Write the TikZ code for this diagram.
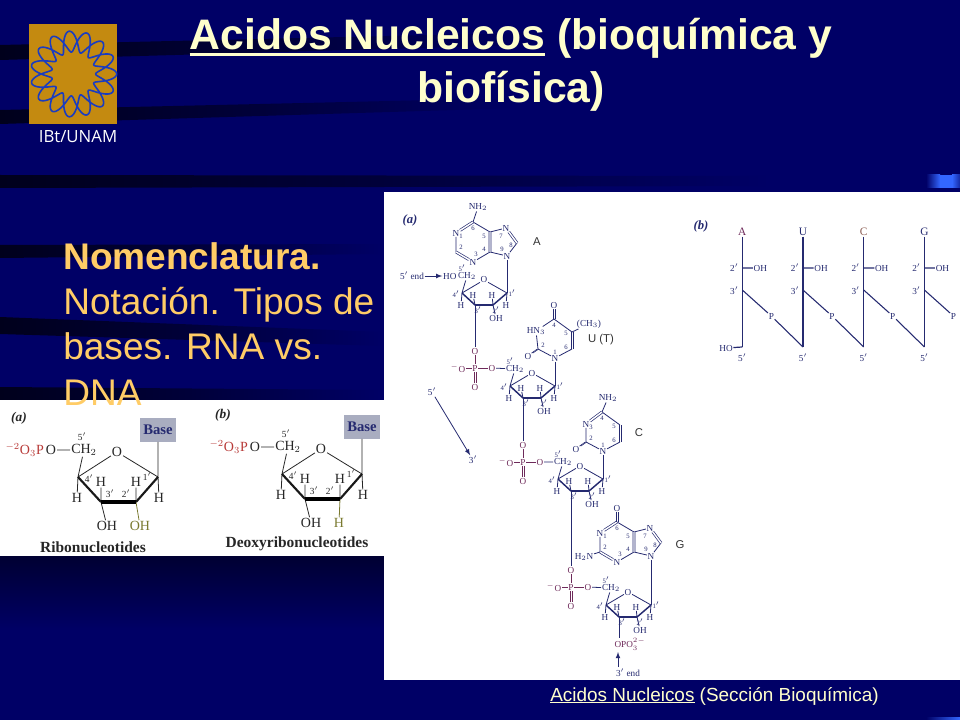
\documentclass[tikz,border=0pt]{standalone}
\usepackage{fontspec}
\usetikzlibrary{calc,positioning,arrows}
\setmainfont{Liberation Serif}
\setsansfont{Liberation Sans}
\newfontfamily\logofont{Open Sans}
\definecolor{bgnavy}{HTML}{000066}
\definecolor{stripedark}{HTML}{00001C}
\definecolor{titlecol}{HTML}{FFFFCC}
\definecolor{bodycol}{HTML}{FFCC66}
\definecolor{goldcol}{HTML}{C48A10}
\definecolor{ringblue}{HTML}{1A3CC0}
\definecolor{inkblue}{HTML}{252A70}
\definecolor{maroon}{HTML}{6E2A5A}
\definecolor{redcol}{HTML}{B83A38}
\definecolor{olivecol}{HTML}{7A7A30}
\definecolor{browncol}{HTML}{8A5A50}
\definecolor{baseboxcol}{HTML}{A9ADC0}
\definecolor{barblue}{HTML}{3366FF}
\newcommand{\ruleline}[3]{\setbox0=\hbox{#3}\leavevmode\rlap{\rule[-#1]{\wd0}{#2}}\box0\relax}
\newcommand{\twobond}[4]{
    \draw[#1, line width=0.45pt, transform canvas={xshift=#2}] (#3) -- (#4);
    \draw[#1, line width=0.45pt, transform canvas={xshift=-#2}] (#3) -- (#4);
}
\tikzset{
    atom/.style={inner sep=0.4pt, text=inkblue, font=\fontsize{6.9}{7}\selectfont},
    num/.style={inner sep=0pt, text=inkblue, font=\fontsize{5}{5}\selectfont},
    paneltext/.style={inner sep=0.6pt, text=black!85, font=\fontsize{10.5}{11}\selectfont},
    panelnum/.style={inner sep=0pt, text=black!85, font=\fontsize{7}{8}\selectfont},
    bond/.style={draw=inkblue, line width=0.6pt},
    dbond/.style={draw=inkblue, line width=0.5pt, double=white, double distance=1.1pt},
    midbond/.style={draw=inkblue, line width=1.1pt},
    heavybond/.style={draw=inkblue, line width=2pt},
    basetag/.style={inner sep=0pt, text=black!80, font=\sffamily\fontsize{8.5}{9}\selectfont},
    pbond/.style={draw=maroon, line width=0.6pt},
    patom/.style={atom, text=maroon}
}
\newcommand{\sugarunit}{
    \coordinate (c4) at (0, 0);
    \coordinate (c3) at (13, 12);
    \coordinate (c2) at (31, 12);
    \coordinate (c1) at (45, 0);
    \node[atom] (o) at (22, -13) {O};
    \node[atom] (ch2) at (5, -17) {CH$_2$};
    \node[atom] (h4) at (-1, 12) {H};
    \node[atom] (h3) at (11, 2) {H};
    \node[atom] (h2) at (30, 2) {H};
    \node[atom] (h1) at (44, 12) {H};
    \node[atom] (oh) at (34, 25) {OH};
    \node[num] (n4) at (-6, 1) {4$'$};
    \node[num] (n3) at (16, 17) {3$'$};
    \node[num] (n2) at (34, 17) {2$'$};
    \node[num] (n1) at (50, 0) {1$'$};
    \node[num] (n5) at (0, -25) {5$'$};
    \draw[bond] (ch2) -- (c4) (c4) -- (h4) (c4) -- (o) (o) -- (c1) (c1) -- (h1)
    (c3) -- (h3) (c2) -- (h2) (c2) -- (oh);
    \draw[midbond] (c4) -- (c3) (c2) -- (c1);
    \draw[heavybond] (c3) -- (c2);
}
\newcommand{\phosphate}{
    \node[patom] (p) at (0, 0) {P};
    \node[patom] (ot) at (0, -17) {O};
    \node[patom] (om) at (-17, 0) {$^-$O};
    \node[patom] (or) at (17, 0) {O};
    \node[patom] (ob) at (0, 19) {O};
    \draw[pbond] (ot) -- (p) (om) -- (p) (p) -- (or);
    \twobond{pbond}{0.7pt}{p}{ob}
}
\newcommand{\purine}{
    \coordinate (c6) at (0, 0);
    \node[atom] (n1) at (-17, 11) {N};
    \coordinate (c2) at (-17, 30);
    \node[atom] (n3) at (0, 40) {N};
    \coordinate (c4) at (17, 30);
    \coordinate (c5) at (17, 10);
    \node[atom] (n7) at (33, 6) {N};
    \coordinate (c8) at (44, 21);
    \node[atom] (n9) at (34, 34) {N};
    \node[num] at (0, 6) {6};
    \node[num] at (-12, 14) {1};
    \node[num] at (-12, 25) {2};
    \node[num] at (3, 32) {3};
    \node[num] at (11, 14) {5};
    \node[num] at (11, 27) {4};
    \node[num] at (28, 14) {7};
    \node[num] at (38, 23) {8};
    \node[num] at (29, 27) {9};
    \draw[bond] (n1) -- (c2) (n3) -- (c4) (c5) -- (c6) (c5) -- (n7) (c8) -- (n9) (n9) -- (c4);
    \draw[dbond] (c6) -- (n1) (c2) -- (n3) (c4) -- (c5) (n7) -- (c8);
}
\newcommand{\pyrimidine}[1]{
    \coordinate (c4) at (0, 0);
    \coordinate (c5) at (18, 13);
    \coordinate (c6) at (18, 30);
    \node[atom] (n1) at (1, 39) {N};
    \coordinate (c2) at (-16, 30);
    \node[atom] (o2) at (-26, 37) {O};
    \node[num] at (0, 6) {4};
    \node[num] at (12, 14) {5};
    \node[num] at (12, 28) {6};
    \node[num] at (1, 33) {1};
    \node[num] at (-11, 26) {2};
    \draw[bond] (c5) -- (c4) (c6) -- (n1) (n1) -- (c2) (c2) -- (n3);
    \draw[#1] (c4) -- (n3);
    \twobond{bond}{0.7pt}{c6}{c5}
    \twobond{bond}{0.5pt}{c2}{o2}
}
\newcommand{\panelsugar}[5]{
    \coordinate (c4) at (0, 0);
    \coordinate (c3) at (23, 25);
    \coordinate (c2) at (58, 25);
    \coordinate (c1) at (80, 0);
    \node[paneltext] (o) at (39, -25) {O};
    \node[paneltext] (ch2) at (6, -27) {CH$_2$};
    \node[paneltext] (o5) at (-27, -27) {O};
    \node[paneltext, text=redcol, anchor=east] (pg) at (o5.west) {$^{-2}$O$_3$P};
    \node[panelnum] at (4, -40) {5$'$};
    \node[paneltext] (h4) at (-1, 21) {H};
    \node[paneltext] (h3) at (23, 5) {H};
    \node[paneltext] (h2) at (58, 5) {H};
    \node[paneltext] (h1) at (81, 21) {H};
    \node[paneltext] (oh) at (29, 49) {OH};
    \node[paneltext, text=#1] (x2) at (#5, 49) {#2};
    \node[panelnum] at (11, 2) {4$'$};
    \node[panelnum] at (32, 17) {3$'$};
    \node[panelnum] at (48, 17) {2$'$};
    \node[panelnum] at (69, 0) {1$'$};
    \node[fill=baseboxcol, minimum width=27.5pt, minimum height=17.5pt, inner sep=0pt, text=inkblue, font=\bfseries\fontsize{11}{12}\selectfont] (base) at (80, -47) {Base};
    \node[inner sep=0pt, font=\fontsize{11.6}{12}\selectfont\bfseries, text=black!85] (cap) at (15, 70) {#3};
    \node[inner sep=0pt, font=\fontsize{10}{11}\selectfont\bfseries\itshape, text=black!85] (tag) at (-59, -59) {#4};
    \draw[black!85, line width=0.6pt] (o5) -- (ch2) (ch2) -- (c4) (c4) -- (h4) (c4) -- (o) (o) -- (c1) (c1) -- (base) (c1) -- (h1) (c3) -- (h3) (c2) -- (h2) (c3) -- (oh);
    \draw[#1, line width=0.6pt] (c2) -- (x2);
    \draw[black!90, line width=1.6pt] (c4) -- (c3) (c2) -- (c1);
    \draw[black, line width=3pt] (c3) -- (c2);
}
\begin{document}
\begin{tikzpicture}[x=0.75pt, y=-0.75pt]
    \useasboundingbox (0, 0) rectangle (960, 720);
    \fill[bgnavy] (0, 0) rectangle (960, 720);
    \foreach \ya/\yb/\xe/\yc/\yd in {45/60/560/32/44, 110/124/520/98/108, 175/188/770/176/186, 245/258/384/244/254, 317/334/384/332/346, 387/400/384/390/400}
        \shade[left color=stripedark, right color=bgnavy, middle color=stripedark!60!bgnavy] (0, \ya) -- (0, \yb) -- (\xe, \yd) -- (\xe, \yc) -- cycle;
    \shade[top color=stripedark!70!bgnavy, bottom color=bgnavy] (0, 556) rectangle (384, 630);
    \shade[left color=bgnavy, right color=barblue] (926, 175) rectangle (940, 188);
    \fill[barblue] (940, 175) rectangle (952, 188);
    \shade[left color=barblue, right color=bgnavy!60!barblue] (952, 175) rectangle (960, 188);
    \shade[left color=bgnavy, right color=barblue] (926, 717) rectangle (960, 720);

    \fill[goldcol] (29, 24) rectangle (117, 124);
    \draw[ringblue, line width=1.2pt, shift={(73.7, 74)}] plot[domain=0:720, samples=481, smooth] ({(32.5+10.5*cos(7.5*\x))*cos(\x)}, {(32.5+10.5*cos(7.5*\x))*sin(\x)});
    \node[text=white, inner sep=0pt, font=\logofont\fontsize{12.6}{14}\selectfont] (logotext) at (78, 137) {IBt/UNAM};

    \node[text=titlecol, align=center, inner sep=0pt, font=\sffamily\bfseries\fontsize{32}{40}\selectfont] (titletext) at (511, 65) {\ruleline{4.5pt}{2.2pt}{Acidos Nucleicos} (bioquímica y\\biofísica)};

    \fill[white] (0, 400) rectangle (384, 556);
    \begin{scope}[shift={(78, 477)}, name prefix=ra-]
        \panelsugar{olivecol}{OH}{Ribonucleotides}{(\textit{a})}{62}
    \end{scope}
    \begin{scope}[shift={(282, 474)}, name prefix=rb-]
        \panelsugar{olivecol}{H}{Deoxyribonucleotides}{(\textit{b})}{57}
    \end{scope}

    \fill[white] (384, 192) rectangle (960, 680);

    \node[text=bodycol, align=left, anchor=north west, inner sep=0pt, font=\sffamily\fontsize{27.8}{34}\selectfont] (bodytext) at (63, 242) {\textbf{Nomenclatura.}\\Notación. Tipos de\\bases. RNA vs.\\DNA};

    \node[text=titlecol, inner sep=0pt, font=\sffamily\fontsize{14.2}{16}\selectfont] (footertext) at (714.5, 696) {\ruleline{1.8pt}{0.8pt}{Acidos Nucleicos} (Sección Bioquímica)};

    \node[inner sep=0pt, text=inkblue, font=\fontsize{9.5}{10}\selectfont\bfseries\itshape] (taga) at (410, 220) {(\textit{a})};
    \node[atom] (endfive) at (412, 276) {5$'$ end};
    \node[atom] (starta) at (432, 392) {5$'$};
    \node[atom] (enda) at (473, 460) {3$'$};
    \draw[bond, -latex] (starta) -- (enda);

    \begin{scope}[shift={(462, 293)}, name prefix=s1-]
        \sugarunit
        \node[atom, left=0pt of ch2] (ho) {HO};
    \end{scope}
    \draw[bond, -latex] (endfive) -- (s1-ho);
    \begin{scope}[shift={(510, 386)}, name prefix=s2-]
        \sugarunit
    \end{scope}
    \begin{scope}[shift={(558, 479)}, name prefix=s3-]
        \sugarunit
    \end{scope}
    \begin{scope}[shift={(606, 605)}, name prefix=s4-]
        \sugarunit
    \end{scope}

    \begin{scope}[shift={(475, 368)}, name prefix=p1-]
        \phosphate
    \end{scope}
    \begin{scope}[shift={(523, 462)}, name prefix=p2-]
        \phosphate
    \end{scope}
    \begin{scope}[shift={(571, 587)}, name prefix=p3-]
        \phosphate
    \end{scope}
    \draw[bond] (s1-c3) -- (p1-ot) (s2-c3) -- (p2-ot) (s3-c3) -- (p3-ot);
    \draw[bond] (p1-or) -- (s2-ch2) (p2-or) -- (s3-ch2) (p3-or) -- (s4-ch2);

    \begin{scope}[shift={(473, 222)}, name prefix=ba-]
        \purine
        \node[atom] (nh2) at (5, -15) {NH$_2$};
        \draw[bond] (c6) -- (nh2);
    \end{scope}
    \node[basetag] (taga1) at (537, 242) {A};
    \begin{scope}[shift={(617, 522)}, name prefix=bg-]
        \purine
        \node[atom] (o6) at (0, -14) {O};
        \node[atom] (h2n) at (-33, 35) {H$_2$N};
        \twobond{bond}{0.7pt}{c6}{o6}
        \draw[bond] (c2) -- (h2n);
    \end{scope}
    \node[basetag] (tagg) at (680, 545) {G};
    \begin{scope}[shift={(554, 319)}, name prefix=bu-]
        \node[atom] (n3) at (-18, 12) {HN$_3$};
        \pyrimidine{bond}
        \node[atom] (o4) at (0, -14) {O};
        \node[atom] (ch3) at (35, 5) {(CH$_3$)};
        \twobond{bond}{0.7pt}{c4}{o4}
        \draw[bond] (c5) -- (ch3);
    \end{scope}
    \node[basetag] (tagu) at (601, 340) {U (T)};
    \begin{scope}[shift={(602, 412)}, name prefix=bc-]
        \node[atom] (n3) at (-16, 12) {N};
        \pyrimidine{dbond}
        \node[num] at (-11, 15) {3};
        \node[atom] (nh2) at (6, -14) {NH$_2$};
        \draw[bond] (c4) -- (nh2);
    \end{scope}
    \node[basetag] (tagc) at (639, 433) {C};

    \draw[bond] (ba-n9) -- (s1-c1) (bu-n1) -- (s2-c1) (bc-n1) -- (s3-c1) (bg-n9) -- (s4-c1);

    \node[patom] (opo) at (630, 644.5) {OPO$_3^{2-}$};
    \node[atom] (endthree) at (628, 673) {3$'$ end};
    \coordinate (endstart) at (618, 667);
    \coordinate (endtip) at (618, 652);
    \draw[bond] (s4-c3) -- (opo.north -| s4-c3);
    \draw[bond, -latex] (endstart) -- (endtip);

    \node[inner sep=0pt, text=inkblue, font=\fontsize{9.5}{10}\selectfont\bfseries\itshape] (tagb) at (701, 226) {(\textit{b})};
    \foreach \i/\lab/\col in {0/A/maroon, 1/U/inkblue, 2/C/browncol, 3/G/inkblue} {
        \begin{scope}[shift={(742.3 + 60.7*\i, 0)}, name prefix=k\i-]
            \node[atom, text=\col, font=\fontsize{8.5}{9}\selectfont] (top) at (0, 232) {\lab};
            \coordinate (two) at (0, 268);
            \coordinate (three) at (0, 290);
            \coordinate (foot) at (0, 347);
            \node[atom] (oh) at (18, 268) {OH};
            \node[atom] (phos) at (29, 316) {P};
            \node[atom] at (-8, 268) {2$'$};
            \node[atom] at (-8, 291) {3$'$};
            \node[atom] at (0, 358) {5$'$};
            \draw[midbond, line width=0.9pt] (top) -- (foot);
            \draw[bond, line width=0.8pt] (two) -- (oh) (three) -- (phos);
        \end{scope}
    }
    \foreach \i/\j in {0/1, 1/2, 2/3}
        \draw[bond, line width=0.8pt] (k\i-phos) -- (k\j-foot);
    \node[atom] (hofoot) at (726, 348) {HO};
    \draw[bond, line width=0.9pt] (hofoot) -- (k0-foot);
\end{tikzpicture}
\end{document}
